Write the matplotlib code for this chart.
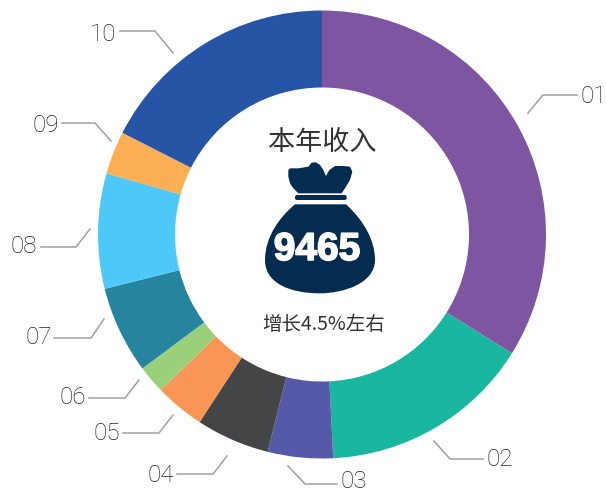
import matplotlib
matplotlib.use('Agg')
import matplotlib.pyplot as plt
import matplotlib.patches as patches
import matplotlib.patheffects as pe
from matplotlib.path import Path

labels = ['01', '02', '03', '04', '05', '06', '07', '08', '09', '10']
values = [33.9, 15.3, 4.7, 5.3, 3.6, 2.0, 6.3, 8.3, 3.1, 17.5]
colors = ['#7E55A1', '#19B6A0', '#5659A8', '#444547', '#F99555',
          '#9BD07A', '#26849E', '#4DC8F8', '#FBAE52', '#2655A6']
total_text = '9465'
title_text = '本年收入'
growth_text = '增长4.5%左右'

H = 490


def py(y):
    # picture y (downwards) to axes y
    return H - y


def bag(x, y):
    return 240 + x / 3, py(120 + y / 3)


fig = plt.figure(figsize=(6.06, 4.90), dpi=100)
ax = fig.add_axes([0, 0, 1, 1])
ax.set_xlim(0, 606)
ax.set_ylim(0, H)
ax.axis('off')

# Donut
ax.pie(values, colors=colors, startangle=90, counterclock=False,
       center=(322, py(234.5)), radius=224, frame=True,
       wedgeprops=dict(width=224 - 147, linewidth=0))
ax.set_xlim(0, 606)
ax.set_ylim(0, H)
ax.axis('off')

# Leader lines: (start, elbow, end), then label position
leaders = [
    ((528, 113), (543, 95), (577, 95), (580, 97), 'left'),
    ((434, 441), (450, 459), (483, 459), (487, 460), 'left'),
    ((288, 466), (305, 484), (337, 484), (340, 481), 'left'),
    ((227, 456), (213, 474), (177, 474), (174, 475), 'right'),
    ((173, 415), (159, 433), (123, 433), (120, 433), 'right'),
    ((139, 380), (125, 398), (89, 398), (86, 398), 'right'),
    ((104, 319), (91, 338), (54, 338), (52, 337), 'right'),
    ((90, 229), (76, 247), (41, 247), (37, 247), 'right'),
    ((111, 141), (95, 123), (62, 123), (59, 126), 'right'),
    ((173, 53), (155, 31), (120, 31), (116, 35), 'right'),
]
for name, (p0, p1, p2, pos, ha) in zip(labels, leaders):
    ax.plot([p0[0], p1[0], p2[0]], [py(p0[1]), py(p1[1]), py(p2[1])],
            color='#A0A0A0', lw=1.1, solid_joinstyle='miter')
    ax.text(pos[0], py(pos[1]), name, ha=ha, va='center', fontsize=17.5,
            family='Roboto', fontweight='light', color='#222222')

# Money bag icon
navy = '#042B50'
top = [(175, 220), (160, 205), (150, 190), (145, 170), (145, 150), (150, 145),
       (175, 145), (205, 140), (215, 128), (228, 127), (240, 135), (250, 150),
       (258, 168), (268, 150), (285, 138), (310, 138), (330, 140), (337, 155),
       (330, 180), (318, 200), (305, 220), (175, 220)]
ax.add_patch(patches.Polygon([bag(*p) for p in top], closed=True, fc=navy, ec='none'))

x0, y0 = bag(165, 240)
x1, y1 = bag(320, 225)
ax.add_patch(patches.FancyBboxPatch((x0 + 2, y0 + 2), x1 - x0 - 4, y1 - y0 - 4,
                                    boxstyle='round,pad=2', fc=navy, ec='none'))

body = [(165, 253), (318, 253), (370, 300), (405, 360), (405, 420),
        (405, 490), (310, 520), (240, 520), (150, 520), (75, 490), (75, 420),
        (75, 350), (120, 290), (165, 253), (165, 253)]
codes = [Path.MOVETO, Path.LINETO, Path.CURVE4, Path.CURVE4, Path.CURVE4,
         Path.CURVE4, Path.CURVE4, Path.CURVE4, Path.CURVE4, Path.CURVE4, Path.CURVE4,
         Path.CURVE4, Path.CURVE4, Path.CURVE4, Path.CLOSEPOLY]
ax.add_patch(patches.PathPatch(Path([bag(*p) for p in body], codes), fc=navy, ec='none'))

# Centre text
ax.text(322, py(143), title_text, ha='center', va='center', fontsize=19.5,
        family='Noto Sans CJK SC', fontweight='light', color='#333333')
ax.text(317, py(250), total_text, ha='center', va='center', fontsize=28,
        family='Liberation Sans', fontweight='bold', color='white',
        path_effects=[pe.withStroke(linewidth=1.2, foreground='white')])
ax.text(323.5, py(325), growth_text, ha='center', va='center', fontsize=14,
        family=['Noto Sans CJK SC', 'DejaVu Sans'], color='#333333')

fig.savefig('out.png', dpi=100)
